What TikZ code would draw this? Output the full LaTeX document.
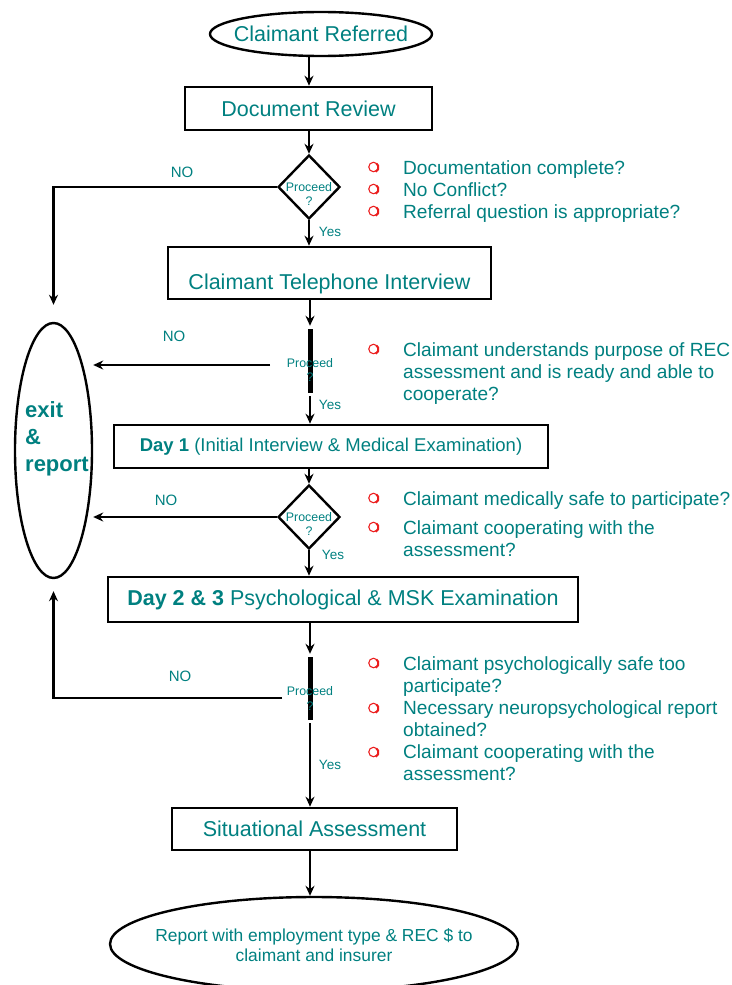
\documentclass[tikz,border=0pt]{standalone}
\usepackage{fontspec}
\setmainfont{Liberation Sans}
\usetikzlibrary{arrows.meta,shapes.geometric}
\definecolor{flowteal}{RGB}{0,128,128}
\definecolor{bulletred}{RGB}{235,30,30}
\begin{document}
\begin{tikzpicture}[x=1pt, y=-1pt,
    every node/.style={font=\fontsize{21.5}{24}\selectfont, text=flowteal},
    box/.style={draw, line width=2.6pt, inner sep=0pt},
    term/.style={ellipse, draw, line width=2.4pt, inner sep=0pt},
    decide/.style={diamond, draw, line width=2.4pt, minimum width=62pt, minimum height=64pt, inner sep=0pt},
    bar/.style={fill=black, minimum width=5pt, inner sep=0pt},
    ask/.style={label={[font=\fontsize{12.4}{14.5}\selectfont, align=center, yshift=-#1]center:Proceed\\?}},
    ask/.default=7pt,
    yesno/.style={font=\fontsize{13.5}{15}\selectfont},
    nolbl/.style={font=\fontsize{15}{17}\selectfont},
    items/.style={anchor=north west, inner sep=0pt, align=left, font=\fontsize{19.1}{22}\selectfont},
    bul/.style={circle, draw=bulletred, line width=1.1pt, minimum size=9.5pt, inner sep=0pt},
    flow/.style={line width=2.2pt, -{Stealth[length=10pt, width=9pt]}}]
\useasboundingbox (0,0) rectangle (731,985);
\node[term, minimum width=222pt, minimum height=44pt, label=center:Claimant Referred] (start) at (321,34) {};
\node[box, minimum width=247pt, minimum height=43pt] (review) at (308.5,108.5) {Document Review};
\node[decide, ask] (dec1) at (309,187) {};
\node[box, minimum width=323pt, minimum height=52pt, text height=34pt, text depth=2pt] (phone) at (329.5,273) {Claimant Telephone Interview};
\node[bar, minimum height=64pt, ask=9pt] (dec2) at (310,361) {};
\node[box, minimum width=434pt, minimum height=43pt, font=\fontsize{18.5}{22}\selectfont] (day1) at (331,446.5)
    {\textbf{Day 1} (Initial Interview \& Medical Examination)};
\node[decide, ask] (dec3) at (309,517) {};
\node[box, minimum width=470pt, minimum height=45pt] (day2) at (343,599.5)
    {\textbf{Day 2 \& 3} Psychological \& MSK Examination};
\node[bar, minimum height=63pt, ask=10pt] (dec4) at (310,688.5) {};
\node[box, minimum width=285pt, minimum height=42pt] (situ) at (314.5,829) {Situational Assessment};
\node[term, minimum width=408pt, minimum height=94pt,
    label={[align=center, font=\fontsize{17.4}{20}\selectfont, yshift=-1pt]center:Report with employment type \& REC \$ to\\claimant and insurer}]
    (final) at (314,944) {};
\node[term, minimum width=77pt, minimum height=255pt] (exit) at (53.5,450.5) {};
\node[anchor=west, inner sep=0pt, align=left, font=\bfseries\fontsize{22}{27}\selectfont] (exittxt) at (25,439) {exit\\\&\\report};

\draw[flow] (start.south -| dec1) -- (review.north -| dec1);
\draw[flow] (review.south -| dec1) -- (dec1.north);
\draw[flow] (dec1.south) -- (phone.north -| dec1);
\draw[flow, shorten >=3pt] (phone.south -| dec2) -- (dec2.north);
\draw[flow, shorten <=3pt] (dec2.south) -- (day1.north -| dec2);
\draw[flow] (day1.south -| dec3) -- (dec3.north);
\draw[flow] (dec3.south) -- (day2.north -| dec3);
\draw[flow, shorten >=3pt] (day2.south -| dec4) -- (dec4.north);
\draw[flow, shorten <=3pt] (dec4.south) -- (situ.north -| dec4);
\draw[flow] (situ.south -| dec4) -- (final.north -| dec4);

\coordinate (no2) at (270,365);
\coordinate (no4) at (282,698);
\draw[flow, shorten >=17pt] (dec1.west) -| (exit.north);
\draw[flow] (no2) -- (exit.east |- no2);
\draw[flow] (dec3.west) -- (exit.east |- dec3.west);
\draw[flow, shorten >=12pt] (no4) -| (exit.south);

\node[yesno] (yes1) at (330,232) {Yes};
\node[yesno] (yes2) at (330,405) {Yes};
\node[yesno] (yes3) at (333,555) {Yes};
\node[yesno] (yes4) at (330,765) {Yes};
\node[nolbl] (no1txt) at (182,172) {NO};
\node[nolbl] (no2txt) at (174,336) {NO};
\node[nolbl] (no3txt) at (166,500) {NO};
\node[nolbl] (no4txt) at (180,676) {NO};

\foreach \y [count=\i] in {167,189,211,349,498,527,663,708,752} {
  \node[bul] (bul\i) at (373.5,\y) {};
  \draw[bulletred, line width=2pt] (bul\i.-65) arc[start angle=-65, end angle=55, radius=4.75pt];
}
\node[items] (q1) at (403,160) {Documentation complete?\\No Conflict?\\Referral question is appropriate?};
\node[items] (q2) at (403,342) {Claimant understands purpose of REC\\assessment and is ready and able to\\cooperate?};
\node[items] (q3) at (403,491) {Claimant medically safe to participate?\\[7pt]Claimant cooperating with the\\assessment?};
\node[items] (q4) at (403,656) {Claimant psychologically safe too\\participate?\\Necessary neuropsychological report\\obtained?\\Claimant cooperating with the\\assessment?};
\end{tikzpicture}
\end{document}
